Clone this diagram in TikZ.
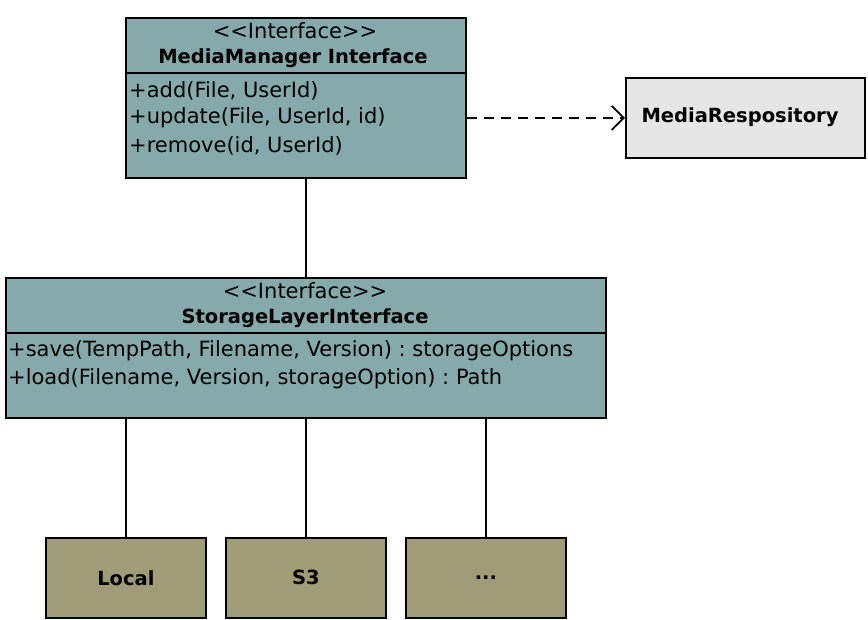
\documentclass[tikz,border=0pt]{standalone}
\usepackage{fontspec}
\setmainfont{DejaVu Sans}
\usetikzlibrary{positioning,arrows.meta}
\definecolor{ifacecol}{RGB}{134,170,171}
\definecolor{implcol}{RGB}{160,156,120}
\definecolor{repocol}{RGB}{230,230,230}
\frenchspacing
\begin{document}
\begin{tikzpicture}[x=1pt,y=-1pt,
    font=\fontsize{21}{24}\selectfont,
    box/.style={draw,line width=1.8pt,anchor=north west,inner sep=0pt},
    iface/.style={box,fill=ifacecol},
    impl/.style={box,fill=implcol,minimum width=160pt,minimum height=80pt,
      font=\fontsize{19.5}{22}\selectfont\bfseries},
    meth/.style={anchor=west,inner sep=0pt},
    label/.style={inner sep=0pt,font=\fontsize{19.5}{22}\selectfont\bfseries},
    link/.style={line width=1.6pt}
  ]
  \useasboundingbox (0,0) rectangle (868,620);

  % MediaManager
  \node[iface,minimum width=340pt,minimum height=160pt] (mm) at (125,17) {};
  \node[inner sep=0pt] (mmst) at (295,31) {<\kern0pt<Interface>\kern0pt>};
  \node[label] (mmname) at (293,58) {MediaManager Interface};
  \draw[link] (125,73) -- (465,73);
  \node[meth] (mmadd) at (129,91) {+add(File, UserId)};
  \node[meth] (mmupd) at (129,118) {+update(File, UserId, id)};
  \node[meth] (mmrem) at (129,146) {+remove(id, UserId)};

  % MediaRespository
  \node[box,fill=repocol,minimum width=239pt,minimum height=80pt] (mr) at (625,77) {};
  \node[label] (mrname) at (740,117) {MediaRespository};
  \draw[link,dash pattern=on 10pt off 7pt,-{Straight Barb[length=12pt,width=24pt,line width=1.8pt]}]
    (mm.east |- mr.west) -- (mr.west);

  % StorageLayer
  \node[iface,minimum width=600pt,minimum height=140pt] (sl) at (5,277) {};
  \node[inner sep=0pt] (slst) at (305,291) {<\kern0pt<Interface>\kern0pt>};
  \node[label] (slname) at (305,318) {StorageLayerInterface};
  \draw[link] (5,333) -- (605,333);
  \node[meth] (slsave) at (8,351) {+save(TempPath, Filename, Version) : storageOptions};
  \node[meth] (slload) at (8,379) {+load(Filename, Version, storageOption) : Path};
  \draw[link] (sl.north |- mm.south) -- (sl.north);

  % Implementations
  \node[impl] (local) at (45,537) {Local};
  \node[impl] (s3) at (225,537) {S3};
  \node[impl] (more) at (405,537) {...};
  \foreach \n in {local,s3,more}
    \draw[link] (\n.north |- sl.south) -- (\n.north);
\end{tikzpicture}
\end{document}
